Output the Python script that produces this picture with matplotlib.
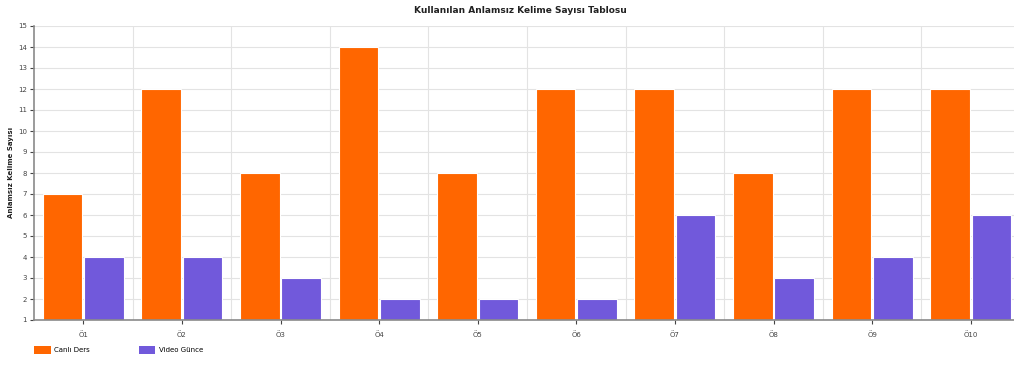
import matplotlib.pyplot as plt
import numpy as np
from matplotlib.patches import Patch

categories = ["Ö1", "Ö2", "Ö3", "Ö4", "Ö5", "Ö6", "Ö7", "Ö8", "Ö9", "Ö10"]
canli_ders = [7, 12, 8, 14, 8, 12, 12, 8, 12, 12]
video_gunce = [4, 4, 3, 2, 2, 2, 6, 3, 4, 6]

orange = '#FF6600'
purple = '#7159DB'

fig = plt.figure(figsize=(10.14, 3.65), dpi=100)
ax = fig.add_axes([34 / 1014, 1 - 320 / 365, 986 / 1014, 294 / 365])

x = np.arange(len(categories))
w = 0.4
base = 1
ax.bar(x - 0.01 - w / 2, np.array(canli_ders) - base, w, bottom=base,
       color=orange, edgecolor='white', linewidth=0.8, zorder=3)
ax.bar(x + 0.01 + w / 2, np.array(video_gunce) - base, w, bottom=base,
       color=purple, edgecolor='white', linewidth=0.8, zorder=3)

ax.set_xlim(-0.5, len(categories) - 0.5)
ax.set_ylim(1, 15)
ax.set_yticks(range(1, 16))
ax.set_xticks(x)
ax.set_xticklabels(categories)

# grid: horizontal at each y tick, vertical at group boundaries
for yv in range(2, 16):
    ax.axhline(yv, color='#e3e3e3', linewidth=0.8, zorder=0)
for xv in np.arange(0.5, len(categories) - 0.5, 1):
    ax.axvline(xv, color='#e3e3e3', linewidth=0.8, zorder=0)

for s in ['top', 'right']:
    ax.spines[s].set_visible(False)
for s in ['left', 'bottom']:
    ax.spines[s].set_color('#8a8a8a')
    ax.spines[s].set_linewidth(1.2)
    ax.spines[s].set_zorder(4)

ax.tick_params(axis='both', labelsize=5, colors='#444444', length=3, width=0.8)
ax.tick_params(axis='x', pad=5)
ax.tick_params(axis='y', pad=2)

fig.text(11 / 1014, 1 - 172 / 365, "Anlamsız Kelime Sayısı", rotation=90,
         ha='center', va='center', fontsize=5, fontweight='bold', color='#222222')
fig.text(0.513, 0.972, "Kullanılan Anlamsız Kelime Sayısı Tablosu",
         ha='center', va='center', fontsize=6.5, fontweight='bold', color='#222222')

handles = [Patch(facecolor=orange, label="Canlı Ders"),
           Patch(facecolor=purple, label="Video Günce")]
fig.legend(handles=handles, loc='center left', bbox_to_anchor=(28 / 1014, 1 - 350 / 365),
           ncol=2, frameon=False, fontsize=5, handlelength=2.4, handleheight=1.4,
           columnspacing=7, handletextpad=0.5)

fig.savefig("out.png", dpi=100)
